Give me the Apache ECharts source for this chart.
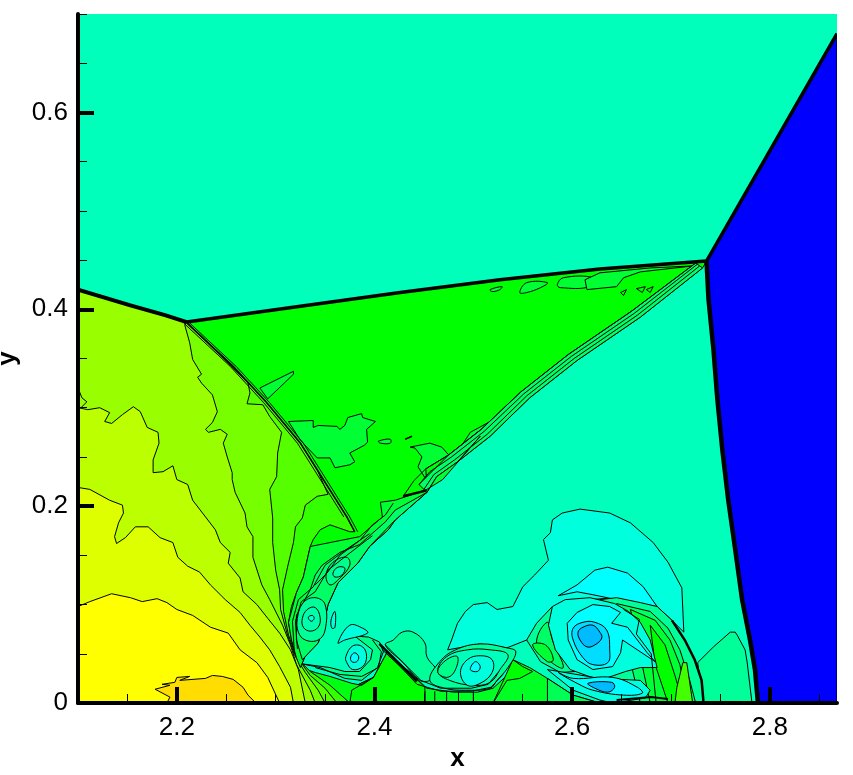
<!DOCTYPE html>
<html><head><meta charset="utf-8"><style>html,body{margin:0;padding:0;background:#fff}#c{width:853px;height:775px}</style>
<script src="https://cdn.jsdelivr.net/npm/echarts@6/dist/echarts.min.js"></script></head><body><div id="c"></div>
<script>
const xMajor=[2.2,2.4,2.6,2.8];
const xMinor=[2.15,2.25,2.3,2.35,2.45,2.5,2.55,2.65,2.7,2.75,2.85];
const yMajor=[0,0.2,0.4,0.6];
const yMinor=[0.05,0.1,0.15,0.25,0.3,0.35,0.45,0.5,0.55,0.65,0.7];
const topLine=[[2.210,.387],[2.325,.403],[2.426,.417],[2.527,.430],[2.628,.441],[2.736,.449]];
const machStem=[[2.1,.420],[2.153,.404],[2.188,.394],[2.210,.387]];
const reflected=[[2.210,.386],[2.257,.342],[2.291,.305],[2.325,.264],[2.342,.237],[2.372,.189],[2.380,.174]];
const reflectedA=[[2.213,.386],[2.260,.342],[2.294,.305],[2.328,.264],[2.345,.237],[2.375,.189],[2.383,.174]];
const reflectedB=[[2.207,.386],[2.254,.342],[2.288,.305],[2.322,.264],[2.339,.237],[2.369,.189]];
const machUpper=[[2.868,.680],[2.736,.449]];
const stem=[[2.736,.449],[2.738,.410],[2.743,.359],[2.747,.308],[2.752,.257],[2.758,.206],[2.765,.156],[2.772,.105],[2.780,.064],[2.785,.034],[2.788,0]];
const blue=[[2.868,.680],...stem,[2.868,0]];
const tealEdge=[[2.732,.442],[2.669,.392],[2.605,.348],[2.557,.310],[2.517,.271],[2.484,.245],[2.463,.230],[2.453,.214],[2.421,.186],[2.414,.176],[2.395,.159],[2.383,.142],[2.363,.122],[2.353,.100],[2.348,.077],[2.343,.061],[2.330,.048],[2.325,.036]];
const greenMain=[...topLine,...tealEdge,[2.21,0]];
const L4=[[2.380,.174],[2.375,.174],[2.355,.181],[2.345,.176],[2.338,.166],[2.335,.159],[2.332,.146],[2.328,.128],[2.321,.112],[2.316,.098],[2.313,.082],[2.316,.064],[2.321,.046],[2.335,.032],[2.355,.018],[2.375,0]];
const L3=[[2.353,.212],[2.342,.210],[2.330,.201],[2.327,.188],[2.320,.179],[2.318,.163],[2.312,.138],[2.307,.115],[2.308,.093],[2.313,.069],[2.320,.049],[2.335,.028],[2.350,.015],[2.362,0]];
const L2=[[2.272,.325],[2.274,.315],[2.271,.304],[2.287,.303],[2.294,.291],[2.306,.275],[2.302,.254],[2.301,.230],[2.294,.217],[2.297,.188],[2.297,.163],[2.300,.135],[2.304,.115],[2.305,.095],[2.312,.069],[2.319,.049],[2.330,.031],[2.343,.013],[2.350,0]];
const L1=[[2.208,.384],[2.213,.366],[2.216,.349],[2.225,.334],[2.221,.331],[2.225,.325],[2.236,.313],[2.241,.296],[2.236,.285],[2.229,.278],[2.232,.275],[2.244,.278],[2.251,.273],[2.247,.264],[2.251,.250],[2.256,.234],[2.256,.227],[2.259,.214],[2.269,.193],[2.271,.179],[2.277,.169],[2.277,.148],[2.286,.120],[2.294,.105],[2.307,.079],[2.315,.059],[2.321,.039],[2.335,.013],[2.340,0]];
const Cb=[[2.1,.300],[2.110,.298],[2.122,.300],[2.132,.295],[2.127,.286],[2.134,.284],[2.145,.293],[2.156,.301],[2.163,.296],[2.170,.280],[2.181,.275],[2.182,.264],[2.176,.247],[2.176,.234],[2.186,.235],[2.196,.241],[2.200,.227],[2.211,.222],[2.216,.206],[2.226,.193],[2.239,.176],[2.244,.163],[2.254,.153],[2.252,.142],[2.264,.127],[2.267,.113],[2.281,.100],[2.292,.086],[2.304,.071],[2.315,.054],[2.323,.034],[2.330,0]];
const Ca=[[2.1,.219],[2.112,.217],[2.132,.206],[2.145,.201],[2.146,.193],[2.141,.183],[2.137,.169],[2.139,.162],[2.148,.168],[2.158,.179],[2.171,.179],[2.183,.168],[2.196,.163],[2.201,.148],[2.211,.139],[2.223,.133],[2.234,.120],[2.249,.105],[2.264,.092],[2.274,.079],[2.284,.067],[2.294,.054],[2.304,.037],[2.315,.016],[2.318,0]];
const yellowEdge=[[2.1,.098],[2.112,.103],[2.134,.111],[2.153,.107],[2.165,.103],[2.180,.106],[2.190,.102],[2.200,.095],[2.216,.089],[2.234,.077],[2.252,.071],[2.264,.054],[2.281,.041],[2.292,.026],[2.304,0]];
const gold=[[2.190,0],[2.193,.006],[2.178,.014],[2.193,.018],[2.185,.019],[2.198,.021],[2.200,.026],[2.213,.027],[2.203,.023],[2.229,.025],[2.236,.028],[2.246,.027],[2.257,.024],[2.267,.016],[2.272,.008],[2.280,0]];
const corner=[[2.1,0]];
const blip=[[2.1,.32],[2.104,.31],[2.109,.306],[2.103,.300]];
const p33=[...machStem,...reflected,...L4,...corner];
const p55=[...machStem,[2.257,.342],[2.291,.305],[2.325,.264],[2.342,.237],...L3,...corner];
const p77=[...machStem,...L2,...corner];
const p99=[...machStem,...L1,...corner];
const pBB=[...Cb,...corner], pDD=[...Ca,...corner], pFF=[...yellowEdge,...corner];
const gLow=[[2.365,0],[2.377,.013],[2.382,.018],[2.399,.026],[2.413,.052],[2.421,.044],[2.436,.031],[2.453,.015],[2.480,.011],[2.504,.011],[2.520,.015],[2.534,.028],[2.540,.044],[2.557,.036],[2.575,.025],[2.601,.008],[2.628,0]];
const gLowLeft=[[2.365,0],[2.377,.013],[2.382,.018],[2.399,.026],[2.413,.052],[2.421,.044],[2.436,.031],[2.451,.016],[2.451,0]];
const gLowRight=[[2.575,0],[2.575,.025],[2.601,.008],[2.628,0]];
const lobeBottom=[[2.520,0],[2.540,.044],[2.550,.037],[2.560,.032],[2.547,.025],[2.534,.023]];
const wedgeV2=[[2.325,.036],[2.340,.031],[2.355,.027],[2.377,.020],[2.387,.018],[2.399,.026],[2.377,.013],[2.375,0],[2.335,0]];
const ringV2=[[2.325,.040],[2.345,.036],[2.370,.025],[2.387,.023],[2.403,.036],[2.409,.052],[2.405,.062],[2.394,.067],[2.380,.068],[2.398,.054],[2.396,.044],[2.385,.032],[2.370,.032],[2.355,.036]];
const ringV2b=[[2.398,.064],[2.407,.052],[2.404,.036],[2.387,.027],[2.365,.029],[2.340,.036]];
const bandA=[[2.411,.059],[2.429,.041],[2.447,.023],[2.467,.015],[2.498,.015],[2.515,.019],[2.525,.031]];
const bandB=[[2.408,.054],[2.426,.037],[2.443,.019],[2.467,.012],[2.498,.012],[2.518,.016],[2.530,.029]];
const bandKnot=[[2.405,.060],[2.443,.022]];
const lump=[[2.411,.059],[2.419,.064],[2.428,.072],[2.439,.072],[2.451,.061],[2.453,.047],[2.463,.032],[2.456,.023],[2.446,.023],[2.429,.041]];
const ovalOuter=[[2.456,.023],[2.466,.042],[2.482,.054],[2.507,.060],[2.534,.056],[2.543,.052],[2.535,.036],[2.524,.023],[2.517,.015],[2.492,.013],[2.471,.015]];
const oval2=[[2.464,.032],[2.473,.047],[2.494,.054],[2.517,.054],[2.535,.049],[2.527,.034],[2.517,.021],[2.500,.018],[2.476,.023]];
const ovalFin=[[2.464,.032],[2.473,.044],[2.484,.047],[2.481,.032],[2.473,.026]];
const oval3=[[2.487,.031],[2.494,.044],[2.507,.048],[2.519,.044],[2.519,.031],[2.507,.020],[2.494,.018]];
const oval4=[[2.497,.034],[2.502,.042],[2.507,.037],[2.504,.032]];
const v2a=[[2.371,.047],[2.378,.058],[2.388,.057],[2.392,.047],[2.388,.037],[2.378,.034],[2.372,.041]];
const v2b=[[2.376,.047],[2.380,.051],[2.384,.047],[2.382,.042],[2.377,.042]];
const v2blob=[[2.363,.061],[2.375,.079],[2.388,.076],[2.393,.071],[2.370,.064]];
const sliver=[[2.356,.084],[2.360,.093],[2.360,.077],[2.357,.076]];
const w1=[[2.335,.159],[2.365,.165],[2.385,.169],[2.408,.189],[2.406,.204],[2.421,.206],[2.453,.217],[2.469,.227],[2.507,.271],[2.484,.245],[2.463,.230],[2.453,.214],[2.421,.186],[2.414,.176],[2.395,.159],[2.383,.142],[2.363,.122],[2.353,.100],[2.348,.077],[2.343,.061],[2.330,.048],[2.325,.036],[2.321,.046],[2.316,.064],[2.313,.082],[2.321,.112],[2.328,.128]];
const w2=[[2.347,.140],[2.365,.153],[2.385,.161],[2.411,.184],[2.421,.196],[2.453,.214],[2.421,.186],[2.395,.159],[2.383,.142],[2.363,.122],[2.353,.100],[2.348,.077],[2.343,.061],[2.327,.044],[2.321,.064],[2.321,.089],[2.335,.115],[2.340,.130]];
const v1a=[[2.322,.086],[2.328,.102],[2.340,.107],[2.350,.100],[2.350,.074],[2.343,.064],[2.330,.064],[2.323,.072]];
const v1b=[[2.327,.086],[2.332,.095],[2.340,.097],[2.345,.087],[2.343,.077],[2.335,.073],[2.328,.077]];
const v1c=[[2.333,.087],[2.337,.089],[2.339,.086],[2.336,.083]];
const upperA=[[2.351,.130],[2.358,.143],[2.372,.148],[2.375,.140],[2.365,.127],[2.355,.120]];
const upperB=[[2.358,.132],[2.363,.138],[2.370,.137],[2.367,.130],[2.360,.128]];
const stackA=[[2.319,.050],[2.317,.083],[2.323,.105],[2.338,.118],[2.350,.140],[2.370,.155],[2.395,.172]];
const stackB=[[2.322,.055],[2.320,.083],[2.326,.103],[2.340,.113],[2.353,.135],[2.372,.150],[2.398,.170]];
const stackC=[[2.419,.203],[2.411,.191],[2.398,.181],[2.385,.165],[2.365,.150],[2.352,.132],[2.340,.120]];
const slipBand=[[2.732,.442],[2.669,.392],[2.605,.348],[2.557,.310],[2.517,.271],[2.484,.245],[2.463,.230],[2.453,.214],[2.445,.222],[2.475,.252],[2.508,.278],[2.548,.316],[2.596,.354],[2.660,.398],[2.725,.447]];
const slip1=[[2.729,.444],[2.666,.394],[2.602,.350],[2.554,.312],[2.514,.273],[2.481,.247],[2.460,.232],[2.450,.217]];
const slip2=[[2.727,.446],[2.663,.396],[2.599,.352],[2.551,.314],[2.511,.276],[2.478,.250],[2.456,.235],[2.445,.222]];
const slip3=[[2.725,.447],[2.660,.398],[2.596,.354],[2.548,.316],[2.508,.278],[2.475,.252],[2.452,.238],[2.440,.226],[2.429,.210]];
const slipKnot=[[2.429,.210],[2.453,.216]];
const blobA=[[2.313,.286],[2.338,.287],[2.338,.280],[2.343,.282],[2.362,.281],[2.365,.278],[2.370,.282],[2.373,.290],[2.387,.294],[2.388,.290],[2.401,.286],[2.392,.278],[2.393,.265],[2.390,.262],[2.375,.254],[2.380,.245],[2.375,.242],[2.360,.239],[2.355,.249],[2.342,.249],[2.325,.267]];
const blobB=[[2.436,.260],[2.456,.264],[2.468,.260],[2.476,.251],[2.484,.255],[2.497,.275],[2.517,.286],[2.508,.278],[2.475,.252],[2.452,.238],[2.453,.214],[2.451,.229],[2.444,.240],[2.448,.250],[2.441,.259]];
const wedge=[[2.284,.320],[2.318,.337],[2.318,.334],[2.292,.309]];
const small1=[[2.404,.266],[2.416,.268],[2.416,.264],[2.406,.264]];
const small2=[[2.431,.268],[2.438,.271]];
const top1=[[2.517,.420],[2.529,.423],[2.527,.420],[2.519,.418]];
const top2=[[2.547,.417],[2.554,.427],[2.575,.427],[2.568,.422],[2.554,.417]];
const top3=[[2.585,.425],[2.591,.432],[2.621,.432],[2.618,.423],[2.588,.422]];
const top4=[[2.615,.420],[2.645,.423],[2.652,.432],[2.669,.438],[2.722,.444],[2.679,.442],[2.628,.437],[2.613,.430]];
const mini1=[[2.649,.417],[2.655,.420],[2.652,.414],[2.649,.417]];
const mini2=[[2.665,.421],[2.674,.423],[2.671,.417],[2.665,.421]];
const mini3=[[2.682,.423],[2.679,.417],[2.675,.420],[2.682,.423]];
const rightLobe=[[2.727,.041],[2.743,.057],[2.760,.072],[2.765,.072],[2.767,.069],[2.775,.054],[2.777,.042],[2.782,0],[2.733,0]];
const aqua=[[2.474,.054],[2.478,.064],[2.484,.081],[2.492,.093],[2.500,.100],[2.514,.102],[2.524,.095],[2.540,.098],[2.550,.118],[2.562,.130],[2.576,.145],[2.571,.166],[2.578,.173],[2.580,.186],[2.590,.193],[2.608,.197],[2.638,.193],[2.659,.183],[2.682,.163],[2.697,.143],[2.711,.117],[2.713,.072],[2.701,.084],[2.686,.098],[2.669,.102],[2.645,.107],[2.618,.105],[2.587,.095],[2.554,.064],[2.534,.056],[2.507,.060]];
const cap=[[2.586,.109],[2.605,.120],[2.623,.135],[2.636,.138],[2.656,.132],[2.672,.118],[2.686,.098],[2.645,.105],[2.621,.110],[2.605,.113]];
const a1=[[2.628,.105],[2.645,.107],[2.669,.102],[2.686,.098],[2.701,.084],[2.714,.064],[2.724,.044],[2.731,.023],[2.733,0],[2.654,0],[2.628,.013]];
const a2=[[2.645,.101],[2.679,.093],[2.697,.076],[2.709,.054],[2.719,.023],[2.725,0],[2.669,0]];
const a3=[[2.659,.095],[2.684,.084],[2.699,.064],[2.709,.039],[2.717,0],[2.679,0]];
const a4=[[2.679,.079],[2.694,.059],[2.704,.028],[2.712,0],[2.697,0],[2.684,.039]];
const a5=[[2.712,.041],[2.716,.041],[2.722,0],[2.704,0],[2.706,.016]];
const arcThick=[[2.701,.084],[2.714,.064],[2.724,.044],[2.731,.023],[2.733,0]];
const f1=[[2.580,.098],[2.564,.081],[2.554,.064],[2.568,.042],[2.588,.031],[2.603,.032],[2.588,.064],[2.584,.084]];
const f2=[[2.575,.082],[2.564,.062],[2.576,.044],[2.591,.036],[2.580,.064]];
const f3=[[2.560,.059],[2.573,.059],[2.581,.044],[2.575,.042]];
const v4zone=[[2.580,.098],[2.593,.105],[2.618,.107],[2.643,.101],[2.657,.093],[2.669,.082],[2.679,.064],[2.686,.036],[2.669,.036],[2.654,.032],[2.628,.023],[2.598,.034],[2.583,.054],[2.576,.079]];
const r3=[[2.595,.081],[2.605,.092],[2.621,.100],[2.638,.098],[2.649,.092],[2.640,.081],[2.656,.077],[2.676,.051],[2.684,.042],[2.651,.064],[2.649,.051],[2.641,.037],[2.621,.034],[2.605,.044],[2.596,.064]];
const r2=[[2.601,.076],[2.611,.082],[2.623,.082],[2.635,.074],[2.638,.054],[2.636,.041],[2.621,.039],[2.611,.046],[2.601,.064]];
const r1=[[2.606,.072],[2.611,.077],[2.621,.079],[2.628,.072],[2.630,.066],[2.623,.059],[2.615,.057],[2.608,.064]];
const lowZone=[[2.575,.034],[2.628,.025],[2.669,.023],[2.679,.013],[2.674,.005],[2.641,0],[2.628,.003],[2.601,.013]];
const lowCyan=[[2.586,.031],[2.601,.025],[2.641,.026],[2.666,.016],[2.671,.010],[2.652,.008],[2.621,.013],[2.605,.020]];
const lowCore=[[2.616,.020],[2.640,.021],[2.643,.016],[2.636,.011],[2.623,.015]];
const lowLine=[[2.645,.003],[2.680,.006],[2.697,.004]];
const zig=[[2.652,.095],[2.668,.085],[2.665,.070],[2.680,.05],[2.685,0]];
const tickA=[[2.451,0],[2.451,.012]],tickB=[[2.461,0],[2.461,.012]],tickC=[[2.473,0],[2.473,.012]],tickD=[[2.485,0],[2.485,.012]],tickE=[[2.500,0],[2.500,.012]];

const polys=[
[greenMain,'#00FF00'],[blobA,'#00FF33'],[blobB,'#00FF33'],[wedge,'#00FF33'],[small1,'#00FF33'],[top1,'#00FF33'],[top2,'#00FF33'],[top3,'#00FF33'],[top4,'#00FF33'],
[slipBand,'#00FF66'],[rightLobe,'#00FF99'],[aqua,'#00FFDD'],[cap,'#00FFFF'],
[gLow,'#00FF22'],[gLowLeft,'#00FF00'],[gLowRight,'#00FF55'],[lobeBottom,'#00FF00'],[wedgeV2,'#00FF11'],[lump,'#00FF99'],[ringV2,'#00FF88'],
[p33,'#33FF00'],[p55,'#55FF00'],[p77,'#77FF00'],[p99,'#99FF00'],[pBB,'#BBFF00'],[pDD,'#DDFF00'],[pFF,'#FFFF00'],[gold,'#FFDD00'],
[w1,'#00FF33'],[w2,'#00FF66'],[v1a,'#00FF99'],[v1b,'#00FFAA'],[v1c,'#00FFDD'],[upperA,'#00FF88'],[upperB,'#00FFAA'],[sliver,'#00FFDD'],
[v2blob,'#00FFDD'],[v2a,'#00FFDD'],[v2b,'#00FFFF'],
[ovalOuter,'#00FF99'],[oval2,'#00FFBB'],[ovalFin,'#00FF88'],[oval3,'#00FFDD'],[oval4,'#00FFFF'],
[a1,'#00FF99'],[a2,'#00FF66'],[a3,'#00FF33'],[a4,'#00FF00'],[a5,'#44FF00'],
[f1,'#00FF99'],[f2,'#00FF66'],[f3,'#00FF33'],[v4zone,'#00FFDD'],[r3,'#00FFFF'],[r2,'#00DDFF'],[r1,'#00BBFF'],
[lowZone,'#00FFDD'],[lowCyan,'#00FFFF'],[lowCore,'#00BBFF'],[blue,'#0000FF']
];
const rounded=new Set([v1a,v1b,v1c,upperA,upperB,v2a,v2b,v2blob,sliver,ovalOuter,oval2,ovalFin,oval3,oval4,f2,f3,r2,r1,lowCyan,lowCore,top1,top2,top3,small1,lump]);
const lines=[
[blip,1],[slip1,1],[slip2,1],[slip3,1],[slipKnot,2.5],[small2,1.5],[mini1,1],[mini2,1],[mini3,1],
[stackA,1],[stackB,1],[stackC,1],[ringV2b,1],[bandA,1],[bandB,1],[bandKnot,2.5],[zig,1],[arcThick,2.5],[lowLine,2],
[tickA,1],[tickB,1],[tickC,1],[tickD,1],[tickE,1],
[reflectedA,1],[reflected,1.5],[reflectedB,1],[machStem,4],[topLine,3.5],[machUpper,3.5],[stem,4.5]
];
const X0=2.1,X1=2.868,Y0=0,Y1=0.7;
const layer=(pts,render)=>({type:'custom',coordinateSystem:'cartesian2d',xAxisIndex:0,yAxisIndex:0,clip:true,silent:true,animation:false,
  data:pts,encode:{x:0,y:1},renderItem:(p,api)=>p.dataIndex===0?render(pts.map(q=>api.coord(q))):null});
const series=[
 ...polys.map(([pts,c])=>layer(pts,P=>({type:'polygon',shape:{points:P,smooth:rounded.has(pts)?0.4:0},style:{fill:c,stroke:'#000',lineWidth:1}}))),
 ...lines.map(([pts,w])=>layer(pts,P=>({type:'polyline',shape:{points:P},style:{fill:'none',stroke:'#000',lineWidth:w}})))
];
const font={fontFamily:'Liberation Sans',fontSize:26,color:'#000'};
const nameFont={fontFamily:'Liberation Sans',fontSize:26,fontWeight:'bold',color:'#000'};
const hid={show:false};
const chart=echarts.init(document.getElementById('c'),null,{renderer:'canvas'});
chart.setOption({animation:false,backgroundColor:'#fff',
 grid:{left:78,right:16,top:14,bottom:72,show:true,borderWidth:0,backgroundColor:'#00FFBB',outerBoundsMode:'none'},
 xAxis:[
  {type:'value',min:X0,max:X1,z:10,position:'bottom',name:'x',nameLocation:'middle',nameGap:34,nameTextStyle:nameFont,
   axisLine:{show:true,onZero:false,lineStyle:{color:'#000',width:4}},splitLine:hid,
   axisTick:{show:true,inside:true,length:16,customValues:xMajor,lineStyle:{color:'#000',width:4}},
   axisLabel:{...font,margin:12,customValues:xMajor,formatter:v=>v.toFixed(1)}},
  {type:'value',min:X0,max:X1,z:10,position:'bottom',axisLine:hid,splitLine:hid,axisLabel:hid,
   axisTick:{show:true,inside:true,length:9,customValues:xMinor,lineStyle:{color:'#000',width:1}}}
 ],
 yAxis:[
  {type:'value',min:Y0,max:Y1,z:10,position:'left',name:'y',nameLocation:'middle',nameGap:50,nameRotate:90,nameTextStyle:nameFont,
   axisLine:{show:true,onZero:false,lineStyle:{color:'#000',width:4}},splitLine:hid,
   axisTick:{show:true,inside:true,length:16,customValues:yMajor,lineStyle:{color:'#000',width:4}},
   axisLabel:{...font,margin:10,customValues:yMajor,formatter:v=>v===0?'0':v.toFixed(1)}},
  {type:'value',min:Y0,max:Y1,z:10,position:'left',axisLine:hid,splitLine:hid,axisLabel:hid,
   axisTick:{show:true,inside:true,length:9,customValues:yMinor,lineStyle:{color:'#000',width:1}}}
 ],
 series});
</script></body></html>
